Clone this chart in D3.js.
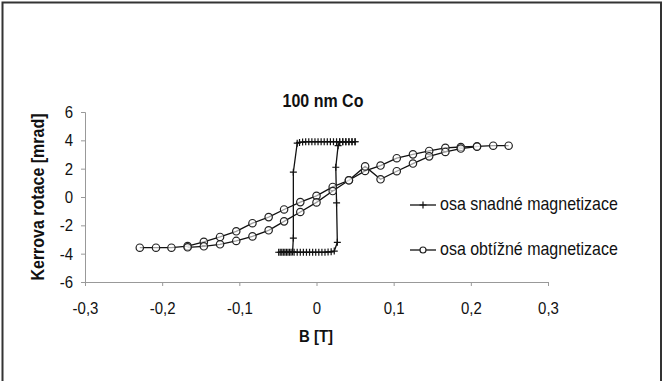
<!DOCTYPE html>
<html>
<head>
<meta charset="utf-8">
<script src="https://cdn.jsdelivr.net/npm/d3@7"></script>
<style>
  body { margin: 0; background: #fff; }
  svg { display: block; font-family: "Liberation Sans", Arial, sans-serif; }
</style>
</head>
<body>
<div id="chart"></div>
<script>
// hard axis (circles): descending branch then ascending branch
const hardDownB = [0.249, 0.229, 0.208, 0.187, 0.167, 0.146, 0.125, 0.104, 0.083, 0.063, 0.042, 0.021, 0,
  -0.021, -0.042, -0.062, -0.083, -0.104, -0.125, -0.146, -0.167, -0.188, -0.208, -0.229];
const hardDownK = [3.62, 3.62, 3.58, 3.53, 3.47, 3.25, 3.01, 2.74, 2.22, 1.84, 1.18, 0.71, 0.08,
  -0.36, -0.88, -1.42, -1.85, -2.42, -2.82, -3.17, -3.47, -3.58, -3.58, -3.58];
const hardUpB = [-0.167, -0.146, -0.125, -0.104, -0.083, -0.062, -0.042, -0.021, 0, 0.021, 0.042,
  0.063, 0.083, 0.104, 0.125, 0.146, 0.167, 0.187, 0.208];
const hardUpK = [-3.55, -3.48, -3.34, -3.1, -2.78, -2.35, -1.72, -1.06, -0.38, 0.42, 1.18,
  2.16, 1.25, 1.82, 2.36, 2.87, 3.18, 3.42, 3.55];

// easy axis (plus markers): ascending branch then descending branch
const easyUpB = [-0.049, -0.045, -0.041, -0.037, -0.033, -0.029, -0.025, -0.021, -0.017, -0.013, -0.009,
  -0.005, -0.001, 0.003, 0.007, 0.011, 0.015, 0.019, 0.023, 0.027, 0.026, 0.025, 0.028, 0.030,
  0.034, 0.038, 0.042, 0.046, 0.050];
const easyUpK = [-3.9, -3.9, -3.9, -3.9, -3.9, -3.9, -3.9, -3.9, -3.9, -3.9, -3.9,
  -3.9, -3.9, -3.9, -3.9, -3.9, -3.88, -3.87, -3.82, -3.2, -0.42, 2.1, 3.62, 3.88,
  3.9, 3.9, 3.9, 3.9, 3.9];
const easyDownB = [0.050, 0.046, 0.042, 0.038, 0.034, 0.030, 0.026, 0.022, 0.018, 0.014, 0.010, 0.006,
  0.002, -0.002, -0.006, -0.010, -0.014, -0.018, -0.022, -0.025, -0.030, -0.030, -0.031,
  -0.035, -0.039, -0.043, -0.047];
const easyDownK = [3.9, 3.9, 3.9, 3.9, 3.9, 3.9, 3.9, 3.9, 3.9, 3.9, 3.9, 3.9,
  3.9, 3.9, 3.9, 3.9, 3.9, 3.88, 3.85, 3.8, 1.75, -2.9, -3.88,
  -3.9, -3.9, -3.9, -3.9];

const xTicks = [-0.3, -0.2, -0.1, 0, 0.1, 0.2, 0.3];
const yTicks = [-6, -4, -2, 0, 2, 4, 6];
const seriesNames = ['osa snadné magnetizace', 'osa obtížné magnetizace'];

const W = 663, H = 381;
const stretch = 1.15; // the source picture is a bit taller than wide
const svg = d3.select('#chart').append('svg')
  .attr('width', W)
  .attr('height', H);

// page frame
svg.append('path')
  .attr('d', 'M2.5,390 V2.5 H661 V390')
  .attr('fill', 'none')
  .attr('stroke', '#333')
  .attr('stroke-width', 2);

const x = d3.scaleLinear().domain([-0.3, 0.3]).range([85, 548]);
const y = d3.scaleLinear().domain([-6, 6]).range([282, 112]);

svg.append('text')
  .attr('transform', `translate(323,107) scale(1,${stretch})`)
  .attr('text-anchor', 'middle')
  .style('font-size', '16px')
  .style('font-weight', 'bold')
  .attr('fill', '#111')
  .text('100 nm Co');

const xAxis = svg.append('g')
  .attr('transform', 'translate(0,282)')
  .call(d3.axisBottom(x).tickValues(xTicks).tickSize(4).tickPadding(13)
    .tickFormat(d => d === 0 ? '0' : d3.format('.1f')(d).replace('.', ',').replace('−', '-')));

const yAxis = svg.append('g')
  .attr('transform', 'translate(85,0)')
  .call(d3.axisLeft(y).tickValues(yTicks).tickSize(4).tickPadding(8)
    .tickFormat(d => String(d)));

[xAxis, yAxis].forEach(g => {
  g.select('.domain').attr('stroke', '#999');
  g.selectAll('.tick line').attr('stroke', '#999');
  g.selectAll('.tick text')
    .attr('fill', '#111')
    .attr('transform', `scale(1,${stretch})`)
    .style('font-size', '15px')
    .style('font-family', '"Liberation Sans", Arial, sans-serif');
});

svg.append('text')
  .attr('transform', `translate(316,342) scale(1,${stretch})`)
  .attr('text-anchor', 'middle')
  .style('font-size', '15px')
  .style('font-weight', 'bold')
  .attr('fill', '#111')
  .text('B [T]');

svg.append('text')
  .attr('transform', `translate(44,197) rotate(-90) scale(1,${stretch})`)
  .attr('text-anchor', 'middle')
  .style('font-size', '16px')
  .style('font-weight', 'bold')
  .attr('fill', '#111')
  .text('Kerrova rotace [mrad]');

const line = d3.line().x(d => x(d[0])).y(d => y(d[1]));
const zip = (a, b) => a.map((v, i) => [v, b[i]]);

const easySeries = [zip(easyUpB, easyUpK), zip(easyDownB, easyDownK)];
const hardSeries = [zip(hardDownB, hardDownK), zip(hardUpB, hardUpK)];

const plus = (g, px, py) => {
  g.append('path')
    .attr('d', `M${px - 3.5},${py} H${px + 3.5} M${px},${py - 3.5} V${py + 3.5}`)
    .attr('stroke', '#111')
    .attr('stroke-width', 1.2);
};

easySeries.forEach(s => {
  svg.append('path').datum(s)
    .attr('d', line)
    .attr('fill', 'none')
    .attr('stroke', '#111')
    .attr('stroke-width', 1.3);
});
const easyMarks = svg.append('g');
easySeries.forEach(s => s.forEach(d => plus(easyMarks, x(d[0]), y(d[1]))));

hardSeries.forEach(s => {
  svg.append('path').datum(s)
    .attr('d', line)
    .attr('fill', 'none')
    .attr('stroke', '#111')
    .attr('stroke-width', 1.3);
});
hardSeries.forEach(s => {
  svg.append('g').selectAll('circle')
    .data(s)
    .enter()
    .append('circle')
    .attr('cx', d => x(d[0]))
    .attr('cy', d => y(d[1]))
    .attr('r', 3.7)
    .attr('fill', '#fff')
    .attr('fill-opacity', 0.6)
    .attr('stroke', '#222')
    .attr('stroke-width', 1.2);
});

// legend
const legend = svg.append('g');
seriesNames.forEach((name, i) => {
  const ly = 205 + i * 45;
  legend.append('line')
    .attr('x1', 410).attr('x2', 436)
    .attr('y1', ly).attr('y2', ly)
    .attr('stroke', '#111')
    .attr('stroke-width', 1.3);
  if (i === 0) {
    plus(legend, 423, ly);
  } else {
    legend.append('circle')
      .attr('cx', 423).attr('cy', ly).attr('r', 3)
      .attr('fill', '#fff')
      .attr('stroke', '#222')
      .attr('stroke-width', 1.2);
  }
  legend.append('text')
    .attr('transform', `translate(440,${ly + 5}) scale(1,${stretch})`)
    .style('font-size', '16px')
    .attr('fill', '#111')
    .text(name);
});
</script>
</body>
</html>
